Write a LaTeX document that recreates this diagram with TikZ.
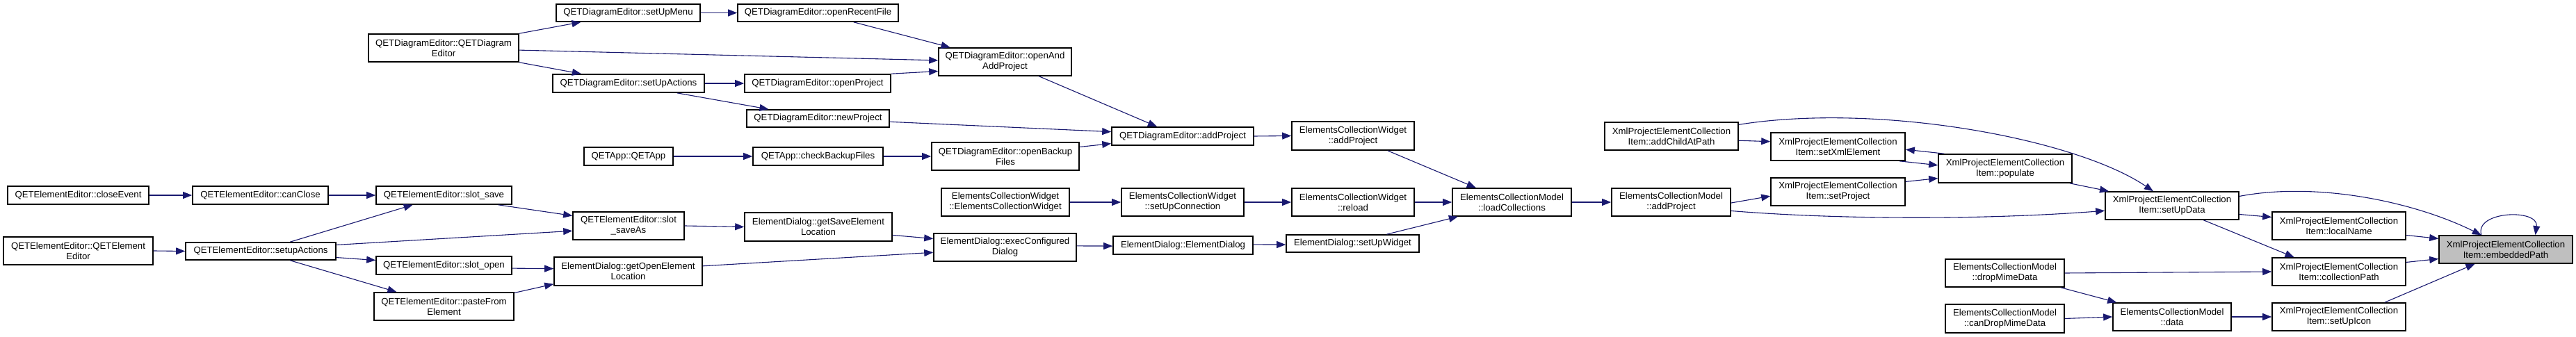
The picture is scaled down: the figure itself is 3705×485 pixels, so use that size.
\documentclass[tikz,border=0pt]{standalone}
\usepackage{fontspec}
\setmainfont{Liberation Sans}
\usetikzlibrary{arrows.meta,calc}
\definecolor{midnight}{RGB}{25,25,112}
\definecolor{rootgray}{RGB}{191,191,191}
\newcommand{\nodebox}[7][]{\node[box,#1,minimum width={(#5-#3)*0.5pt},minimum height={(#6-#4)*0.5pt}] (#2) at ({(#3+#5)/2},{(#4+#6)/2}) {#7};}
\begin{document}
\begin{tikzpicture}[x=0.5pt,y=-0.5pt,
  box/.style={draw=black,line width=0.8pt,fill=white,inner sep=0pt,align=center,font=\fontsize{6.6}{7.5}\selectfont},
  rootbox/.style={fill=rootgray},
  cg/.style={draw=midnight,line width=0.55pt,-{Triangle[length=6.5pt,width=5pt]}}]
\useasboundingbox[fill=white] (0,0) rectangle (3705,485);
% nodes
\nodebox{cls}{11}{268}{214}{294}{QETElementEditor::closeEvent}
\nodebox{cancl}{277}{268}{472}{294}{QETElementEditor::canClose}
\nodebox{save}{541}{268}{736}{294}{QETElementEditor::slot\_save}
\nodebox{qee}{5}{341}{220}{381}{QETElementEditor::QETElement\\Editor}
\nodebox{esetup}{267}{349}{483}{374}{QETElementEditor::setupActions}
\nodebox{sopen}{541}{369}{736}{395}{QETElementEditor::slot\_open}
\nodebox{paste}{538}{421}{739}{461}{QETElementEditor::pasteFrom\\Element}
\nodebox{qde}{530}{49}{746}{89}{QETDiagramEditor::QETDiagram\\Editor}
\nodebox{menu}{800}{6}{1007}{31}{QETDiagramEditor::setUpMenu}
\nodebox{recent}{1061}{6}{1292}{31}{QETDiagramEditor::openRecentFile}
\nodebox{dact}{795}{107}{1013}{133}{QETDiagramEditor::setUpActions}
\nodebox{oproj}{1071}{107}{1281}{133}{QETDiagramEditor::openProject}
\nodebox{newp}{1074}{158}{1279}{183}{QETDiagramEditor::newProject}
\nodebox{app}{840}{212}{968}{238}{QETApp::QETApp}
\nodebox{backup}{1083}{212}{1270}{238}{QETApp::checkBackupFiles}
\nodebox{openadd}{1350}{69}{1541}{109}{QETDiagramEditor::openAnd\\AddProject}
\nodebox{obf}{1340}{205}{1552}{245}{QETDiagramEditor::openBackup\\Files}
\nodebox{ecwecw}{1354}{271}{1538}{311}{ElementsCollectionWidget\\::ElementsCollectionWidget}
\nodebox{saveas}{824}{305}{984}{345}{QETElementEditor::slot\\\_saveAs}
\nodebox{gsel}{1071}{306}{1283}{347}{ElementDialog::getSaveElement\\Location}
\nodebox{exec}{1343}{336}{1548}{376}{ElementDialog::execConfigured\\Dialog}
\nodebox{goel}{797}{370}{1010}{411}{ElementDialog::getOpenElement\\Location}
\nodebox{addp}{1599}{183}{1803}{209}{QETDiagramEditor::addProject}
\nodebox{ecwadd}{1858}{175}{2034}{216}{ElementsCollectionWidget\\::addProject}
\nodebox{setupconn}{1613}{271}{1789}{311}{ElementsCollectionWidget\\::setUpConnection}
\nodebox{reload}{1858}{271}{2034}{311}{ElementsCollectionWidget\\::reload}
\nodebox{load}{2089}{271}{2260}{311}{ElementsCollectionModel\\::loadCollections}
\nodebox{ed}{1601}{340}{1802}{366}{ElementDialog::ElementDialog}
\nodebox{suw}{1850}{338}{2041}{363}{ElementDialog::setUpWidget}
\nodebox{acap}{2308}{176}{2500}{216}{XmlProjectElementCollection\\Item::addChildAtPath}
\nodebox{sxe}{2547}{191}{2740}{231}{XmlProjectElementCollection\\Item::setXmlElement}
\nodebox{pop}{2788}{222}{2980}{263}{XmlProjectElementCollection\\Item::populate}
\nodebox{sproj}{2547}{256}{2740}{296}{XmlProjectElementCollection\\Item::setProject}
\nodebox{ecmadd}{2318}{271}{2489}{311}{ElementsCollectionModel\\::addProject}
\nodebox{drop}{2798}{373}{2969}{413}{ElementsCollectionModel\\::dropMimeData}
\nodebox{candrop}{2798}{438}{2969}{479}{ElementsCollectionModel\\::canDropMimeData}
\nodebox{sud}{3028}{276}{3220}{316}{XmlProjectElementCollection\\Item::setUpData}
\nodebox{local}{3268}{305}{3460}{345}{XmlProjectElementCollection\\Item::localName}
\nodebox[rootbox]{emb}{3508}{339}{3700}{379}{XmlProjectElementCollection\\Item::embeddedPath}
\nodebox{cpath}{3268}{371}{3460}{411}{XmlProjectElementCollection\\Item::collectionPath}
\nodebox{data}{3039}{436}{3209}{476}{ElementsCollectionModel\\::data}
\nodebox{icon}{3268}{436}{3460}{476}{XmlProjectElementCollection\\Item::setUpIcon}
% edges
\draw[cg] (cls.east) -- (cancl.west);
\draw[cg] (cancl.east) -- (save.west);
\draw[cg] (qee.east) -- (esetup.west);
\draw[cg] ($(esetup.north west)!0.694!(esetup.north east)$) -- ($(save.south west)!0.272!(save.south east)$);
\draw[cg] ($(esetup.north east)!0.16!(esetup.south east)$) -- ($(saveas.north west)!0.675!(saveas.south west)$);
\draw[cg] ($(esetup.north east)!0.84!(esetup.south east)$) -- ($(sopen.north west)!0.23!(sopen.south west)$);
\draw[cg] ($(esetup.south west)!0.694!(esetup.south east)$) -- ($(paste.north west)!0.164!(paste.north east)$);
\draw[cg] ($(save.south west)!0.897!(save.south east)$) -- ($(saveas.north west)!0.15!(saveas.south west)$);
\draw[cg] (saveas.east) -- (gsel.west);
\draw[cg] ($(sopen.north east)!0.65!(sopen.south east)$) -- ($(goel.north west)!0.41!(goel.south west)$);
\draw[cg] ($(paste.north east)!0.03!(paste.south east)$) -- ($(goel.north west)!0.93!(goel.south west)$);
\draw[cg] ($(gsel.north east)!0.78!(gsel.south east)$) -- ($(exec.north west)!0.2!(exec.south west)$);
\draw[cg] ($(goel.north east)!0.32!(goel.south east)$) -- ($(exec.north west)!0.675!(exec.south west)$);
\draw[cg] ($(exec.north east)!0.45!(exec.south east)$) -- ($(ed.north west)!0.54!(ed.south west)$);
\draw[cg] ($(ed.north east)!0.46!(ed.south east)$) -- ($(suw.north west)!0.56!(suw.south west)$);
\draw[cg] ($(suw.north west)!0.754!(suw.north east)$) -- ($(load.south west)!0.05!(load.south east)$);
\draw[cg] (ecwecw.east) -- (setupconn.west);
\draw[cg] (setupconn.east) -- (reload.west);
\draw[cg] (reload.east) -- (load.west);
\draw[cg] ($(ecwadd.south west)!0.78!(ecwadd.south east)$) -- ($(load.north west)!0.2!(load.north east)$);
\draw[cg] (addp.east) -- (ecwadd.west);
\draw[cg] (qde.north east) -- ($(menu.south west)!0.174!(menu.south east)$);
\draw[cg] ($(qde.north east)!0.575!(qde.south east)$) -- ($(openadd.north west)!0.45!(openadd.south west)$);
\draw[cg] (qde.south east) -- ($(dact.north west)!0.19!(dact.north east)$);
\draw[cg] (menu.east) -- (recent.west);
\draw[cg] ($(recent.south west)!0.72!(recent.south east)$) -- ($(openadd.north west)!0.09!(openadd.north east)$);
\draw[cg] (dact.east) -- (oproj.west);
\draw[cg] ($(dact.south west)!0.817!(dact.south east)$) -- ($(newp.north west)!0.156!(newp.north east)$);
\draw[cg] (oproj.north east) -- ($(openadd.north west)!0.825!(openadd.south west)$);
\draw[cg] ($(openadd.south west)!0.754!(openadd.south east)$) -- ($(addp.north west)!0.32!(addp.north east)$);
\draw[cg] ($(newp.north east)!0.68!(newp.south east)$) -- ($(addp.north west)!0.27!(addp.south west)$);
\draw[cg] ($(obf.north east)!0.175!(obf.south east)$) -- ($(addp.north west)!0.885!(addp.south west)$);
\draw[cg] (app.east) -- (backup.west);
\draw[cg] (backup.east) -- (obf.west);
\draw[cg] (load.east) -- (ecmadd.west);
\draw[cg] ($(ecmadd.north east)!0.525!(ecmadd.south east)$) -- ($(sproj.north west)!0.65!(sproj.south west)$);
\draw[cg] ($(ecmadd.north east)!0.8!(ecmadd.south east)$) .. controls +(160,13) and +(-170,13) .. ($(sud.north west)!0.675!(sud.south west)$);
\draw[cg] ($(acap.north east)!0.65!(acap.south east)$) -- ($(sxe.north west)!0.325!(sxe.south west)$);
\draw[cg] ($(acap.north east)!0.1!(acap.south east)$) .. controls +(200,-32) and +(-112,-76) .. ($(sud.north west)!0.36!(sud.north east)$);
\draw[cg] ($(sxe.south west)!0.953!(sxe.south east)$) -- ($(pop.north west)!0.39!(pop.south west)$);
\draw[cg] ($(pop.north west)!0.047!(pop.north east)$) -- ($(sxe.north east)!0.6!(sxe.south east)$);
\draw[cg] ($(sproj.north east)!0.15!(sproj.south east)$) -- ($(pop.north west)!0.83!(pop.south west)$);
\draw[cg] ($(pop.south west)!0.98!(pop.south east)$) -- ($(sud.north west)!0.03!(sud.north east)$);
\draw[cg] ($(sud.north east)!0.8!(sud.south east)$) -- ($(local.north west)!0.2!(local.south west)$);
\draw[cg] ($(sud.south west)!0.734!(sud.south east)$) -- ($(cpath.north west)!0.167!(cpath.north east)$);
\draw[cg] ($(sud.north east)!0.175!(sud.south east)$) .. controls +(110,-21) and +(-99,-49) .. ($(emb.north west)!0.318!(emb.north east)$);
\draw[cg] ($(local.north east)!0.825!(local.south east)$) -- ($(emb.north west)!0.125!(emb.south west)$);
\draw[cg] ($(cpath.north east)!0.175!(cpath.south east)$) -- ($(emb.north west)!0.825!(emb.south west)$);
\draw[cg] ($(icon.north west)!0.84!(icon.north east)$) -- ($(emb.south west)!0.27!(emb.south east)$);
\draw[cg] ($(emb.north west)!0.318!(emb.north east)$) .. controls +(-10,-35) and +(5,-38) .. ($(emb.north west)!0.72!(emb.north east)$);
\draw[cg] (drop.east) -- (cpath.west);
\draw[cg] ($(drop.south west)!0.965!(drop.south east)$) -- ($(data.north west)!0.035!(data.north east)$);
\draw[cg] (candrop.east) -- (data.west);
\draw[cg] (data.east) -- (icon.west);
\end{tikzpicture}
\end{document}
